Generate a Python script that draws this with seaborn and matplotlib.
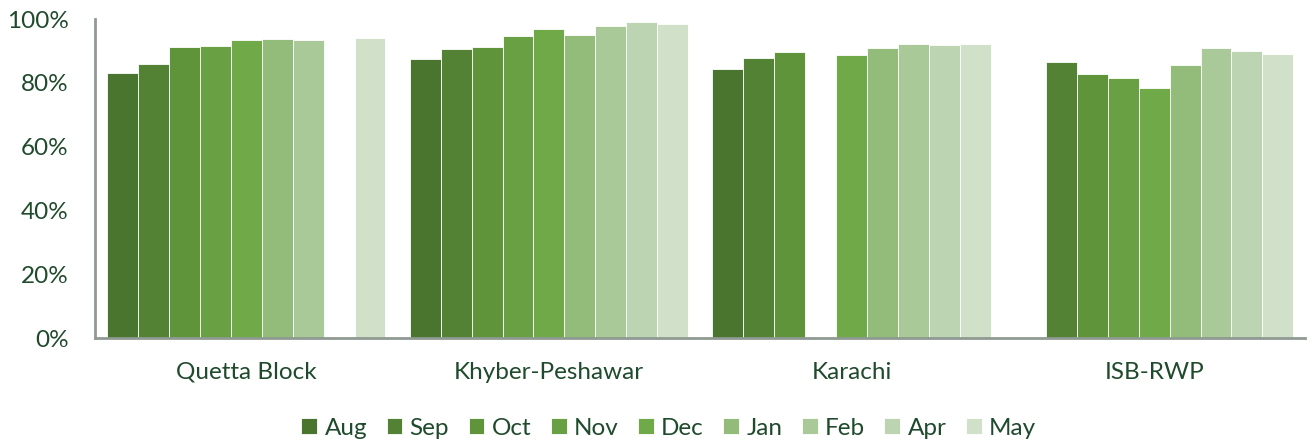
import matplotlib.pyplot as plt
import numpy as np
import pandas as pd
import seaborn as sns

regions = ["Quetta Block", "Khyber-Peshawar", "Karachi", "ISB-RWP"]
months = ["Aug", "Sep", "Oct", "Nov", "Dec", "Jan", "Feb", "Apr", "May"]

# percent values per region, NaN where no bar is shown
quetta = [83.1, 85.9, 91.2, 91.5, 93.6, 93.7, 93.6, np.nan, 94.0]
khyber = [87.5, 90.5, 91.3, 94.6, 96.9, 95.1, 97.8, 99.1, 98.5]
karachi = [84.3, 87.7, 89.6, np.nan, 88.7, 90.8, 92.2, 91.8, 92.2]
isb_rwp = [np.nan, 86.7, 82.8, 81.5, 78.5, 85.5, 90.9, 90.0, 89.1]

colors = ["#4a752f", "#548235", "#5f943a", "#69a043", "#70a947",
          "#93bb7a", "#a9c999", "#bcd4b1", "#d1e0c9"]
text_color = "#1f4a2c"


def main():
    rows = []
    for region, vals in zip(regions, [quetta, khyber, karachi, isb_rwp]):
        for m, v in zip(months, vals):
            rows.append({"region": region, "month": m, "value": v})
    df = pd.DataFrame(rows)

    sns.set_style("white")
    plt.rcParams['font.family'] = ['Lato', 'DejaVu Sans']

    fig = plt.figure(figsize=(13.12, 4.45), dpi=100)
    ax = fig.add_axes([0.0724, 0.2404, 0.9226, 0.7166])
    sns.barplot(data=df, x="region", y="value", hue="month", hue_order=months,
                order=regions, palette=colors, width=0.92, saturation=1,
                edgecolor="white", linewidth=0.6, ax=ax)

    ax.set_ylim(0, 100)
    ax.set_yticks(range(0, 101, 20))
    ax.set_yticklabels([f"{t}%" for t in range(0, 101, 20)])
    ax.set_xlabel("")
    ax.set_ylabel("")
    ax.tick_params(axis="both", length=0, labelsize=17.5, colors=text_color)
    ax.tick_params(axis="x", pad=17)
    ax.tick_params(axis="y", pad=19)

    for side in ["top", "right"]:
        ax.spines[side].set_visible(False)
    for side in ["left", "bottom"]:
        ax.spines[side].set_color("#8f9a92")
        ax.spines[side].set_linewidth(2)

    ax.legend(loc="lower center", bbox_to_anchor=(0.474, -0.385), ncol=9,
              frameon=False, fontsize=17.5, handlelength=0.65, handleheight=0.65,
              handletextpad=0.3, columnspacing=0.8, labelcolor=text_color)

    plt.savefig("out.png", dpi=100)
    plt.close()


if __name__ == "__main__":
    main()
